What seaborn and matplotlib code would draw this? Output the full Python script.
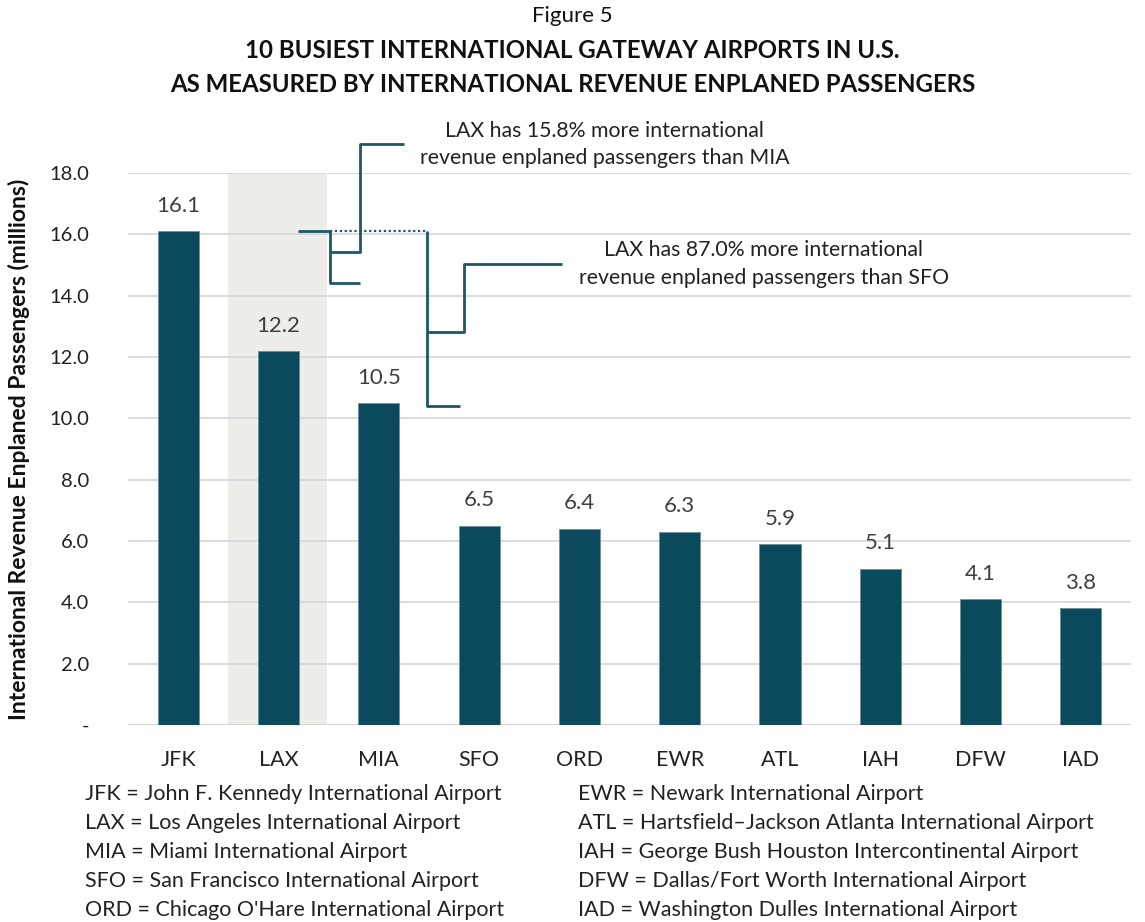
import matplotlib
matplotlib.use("Agg")
import matplotlib.pyplot as plt
import seaborn as sns

# chart data
airports = ["JFK", "LAX", "MIA", "SFO", "ORD", "EWR", "ATL", "IAH", "DFW", "IAD"]
passengers = [16.1, 12.2, 10.5, 6.5, 6.4, 6.3, 5.9, 5.1, 4.1, 3.8]
y_ticks = [0, 2, 4, 6, 8, 10, 12, 14, 16, 18]

notes_left = [
    "JFK = John F. Kennedy International Airport",
    "LAX = Los Angeles International Airport",
    "MIA = Miami International Airport",
    "SFO = San Francisco International Airport",
    "ORD = Chicago O'Hare International Airport",
]
notes_right = [
    "EWR = Newark International Airport",
    "ATL = Hartsfield\u2013Jackson Atlanta International Airport",
    "IAH = George Bush Houston Intercontinental Airport",
    "DFW = Dallas/Fort Worth International Airport",
    "IAD = Washington Dulles International Airport",
]

sns.set_theme(style="white")
plt.rcParams["font.family"] = ["Lato", "DejaVu Sans"]

bar_color = "#0A4A5C"
line_color = "#1B5868"
text_color = "#404040"

fig = plt.figure(figsize=(11.45, 9.22), dpi=100)
ax = fig.add_axes([0.1118, 0.2137, 0.876, 0.5987])

# highlight LAX
ax.axvspan(0.5, 1.48, ymin=0, ymax=1, color="#EEEDEA", zorder=0, lw=0)
for t in y_ticks:
    ax.axhline(t, color="#D9D9D9", lw=1.6 if t == 0 else 1.3, zorder=1)

sns.barplot(x=airports, y=passengers, color=bar_color, width=0.41,
            saturation=1, edgecolor="#6E8F99", linewidth=0.6, ax=ax, zorder=3)

for i, v in enumerate(passengers):
    ax.annotate(f"{v:.1f}", (i, v), xytext=(0, 11), textcoords="offset points",
                ha="center", va="bottom", fontsize=16, color=text_color)

ax.set_xlim(-0.5, 9.5)
ax.set_ylim(0, 18)
ax.set_yticks(y_ticks)
ax.set_yticklabels(["-"] + [f"{t:.1f}" for t in y_ticks[1:]], fontsize=14.5, color="#222222")
ax.tick_params(axis="y", length=0, pad=28)
ax.tick_params(axis="x", length=0, pad=18, labelsize=15.5, labelcolor="#222222")
ax.set_xlabel("")
ax.set_ylabel("International Revenue Enplaned Passengers (millions)",
              fontsize=16.5, fontweight="bold", color="#111111", labelpad=14)
for s in ax.spines.values():
    s.set_visible(False)

# annotation brackets
lw = 2
kw = dict(color=line_color, lw=lw, zorder=4, solid_capstyle="butt", clip_on=False)
ax.plot([1.19, 1.51], [16.1, 16.1], **kw)
ax.plot([1.51, 2.485], [16.1, 16.1], color=line_color, lw=1.6, ls=(0, (1, 1.2)), zorder=4)
ax.plot([1.51, 1.51, 1.81], [16.1, 14.41, 14.41], **kw)
ax.plot([1.51, 1.81, 1.81, 2.25], [15.43, 15.43, 18.94, 18.94], **kw)
ax.plot([2.485, 2.485, 2.81], [16.1, 10.41, 10.41], **kw)
ax.plot([2.485, 2.845, 2.845, 3.83], [12.82, 12.82, 15.03, 15.03], **kw)

ax.text(4.25, 18.94, "LAX has 15.8% more international\nrevenue enplaned passengers than MIA",
        ha="center", va="center", fontsize=15.3, color="#222222", linespacing=1.45,
        clip_on=False)
ax.text(5.84, 15.03, "LAX has 87.0% more international\nrevenue enplaned passengers than SFO",
        ha="center", va="center", fontsize=15.3, color="#222222", linespacing=1.45)

# titles
fig.text(0.5, 1 - 16 / 922, "Figure 5", ha="center", va="center", fontsize=16, color="#111111")
fig.text(0.5, 1 - 50 / 922, "10 BUSIEST INTERNATIONAL GATEWAY AIRPORTS IN U.S.", ha="center",
         va="center", fontsize=17.3, fontweight="bold", color="#111111")
fig.text(0.5, 1 - 85 / 922, "AS MEASURED BY INTERNATIONAL REVENUE ENPLANED PASSENGERS", ha="center",
         va="center", fontsize=17.3, fontweight="bold", color="#111111")

# airport key
for k, (a, b) in enumerate(zip(notes_left, notes_right)):
    y = 1 - (794 + 29 * k) / 922
    fig.text(85 / 1145, y, a, ha="left", va="center", fontsize=15.5, color="#222222")
    fig.text(578 / 1145, y, b, ha="left", va="center", fontsize=15.5, color="#222222")

fig.savefig("out.png", dpi=100)
